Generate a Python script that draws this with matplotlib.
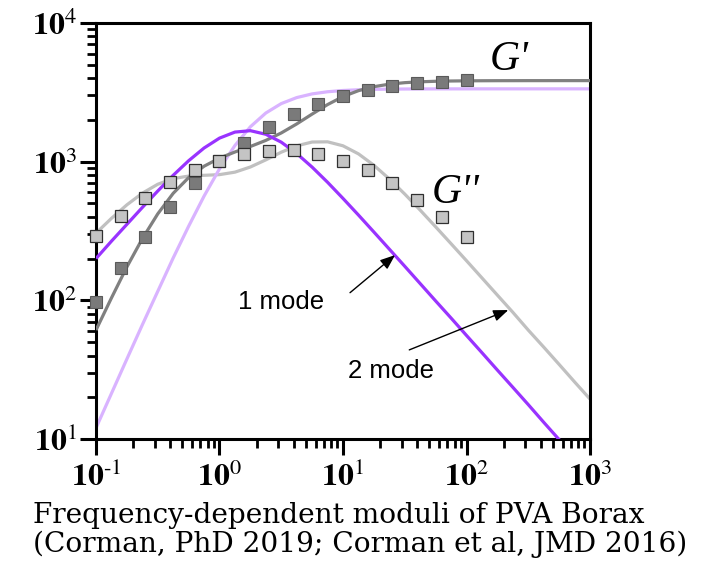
import numpy as np
import matplotlib.pyplot as plt
from matplotlib.ticker import LogLocator, FuncFormatter, NullFormatter

plt.rcParams['mathtext.fontset'] = 'stix'

# measured data (PVA borax)
freq_data = [0.1, 0.158, 0.251, 0.398, 0.631, 1.0, 1.585, 2.512, 3.981, 6.31,
             10, 15.85, 25.12, 39.81, 63.1, 100]
gp_data = [97, 170, 287, 470, 700, 1005, 1370, 1785, 2200, 2620, 2990, 3290,
           3515, 3690, 3780, 3860]
gpp_data = [291, 408, 550, 713, 867, 1006, 1130, 1194, 1214, 1130, 1016, 871,
            705, 530, 397, 288]

# fitted curves
freq_fit = [0.1, 0.1334, 0.1778, 0.2371, 0.3162, 0.4217, 0.5623, 0.7499, 1.0,
            1.334, 1.778, 2.371, 3.162, 4.217, 5.623, 7.499, 10, 13.34, 17.78,
            23.71, 31.62, 42.17, 56.23, 74.99, 100, 133.4, 177.8, 237.1, 316.2,
            421.7, 562.3, 749.9, 1000]
gp_2mode = [61, 104, 174, 278, 420, 591, 767, 927, 1060, 1174, 1286, 1423, 1610,
            1870, 2203, 2580, 2946, 3250, 3473, 3620, 3712, 3766, 3798, 3816,
            3827, 3832, 3836, 3837, 3839, 3839, 3840, 3840, 3840]
gpp_2mode = [305, 390, 488, 592, 687, 755, 787, 797, 806, 840, 915, 1030, 1170,
             1300, 1385, 1390, 1301, 1138, 942, 751, 584, 447, 339, 256, 193,
             145, 109, 82, 61, 46, 34.5, 25.8, 19.4]
gp_1mode = [12.0, 21.3, 37.7, 66.5, 116, 202, 342, 564, 887, 1308, 1784, 2242,
            2622, 2897, 3080, 3192, 3260, 3299, 3321, 3334, 3341, 3345, 3347,
            3348, 3349, 3350, 3350, 3350, 3350, 3350, 3350, 3350, 3350]
gpp_1mode = [200, 267, 353, 467, 614, 797, 1015, 1254, 1478, 1634, 1672, 1576,
             1382, 1145, 913, 710, 543, 412, 311, 234, 176, 132, 99, 74.5, 55.8,
             41.9, 31.4, 23.6, 17.7, 13.2, 9.9, 7.4, 5.6]

fig = plt.figure(figsize=(7.1, 5.66), dpi=100)
ax = fig.add_axes([0.1352, 0.2244, 0.6958, 0.735])

line_kw = dict(lw=2.3, solid_joinstyle='round', solid_capstyle='butt')
ax.plot(freq_fit, gpp_2mode, color='#c0c0c0', zorder=2, **line_kw)
ax.plot(freq_fit, gp_1mode, color='#d9b3ff', zorder=2, **line_kw)
ax.plot(freq_fit, gp_2mode, color='#808080', zorder=3, **line_kw)
ax.plot(freq_fit, gpp_1mode, color='#9933ff', zorder=3, **line_kw)

ax.plot(freq_data, gp_data, 's', ms=8, mfc='#7a7a7a', mec='#5a5a5a', mew=0.8,
        zorder=4, clip_on=False)
ax.plot(freq_data, gpp_data, 's', ms=8, mfc='#c4c4c4', mec='#303030', mew=0.9,
        zorder=5, clip_on=False)

ax.set_xscale('log')
ax.set_yscale('log')
ax.set_xlim(0.1, 1000)
ax.set_ylim(10, 10000)

for sp in ax.spines.values():
    sp.set_linewidth(2.2)

fmt = FuncFormatter(
    lambda v, _: r'$\mathbf{10}^{\text{%d}}$' % round(np.log10(v)))
for axis in (ax.xaxis, ax.yaxis):
    axis.set_major_locator(LogLocator(base=10, numticks=10))
    axis.set_minor_locator(LogLocator(base=10, subs=np.arange(2, 10), numticks=20))
    axis.set_major_formatter(fmt)
    axis.set_minor_formatter(NullFormatter())
ax.tick_params(which='major', direction='out', length=11.5, width=2.2,
               labelsize=23, pad=2)
ax.tick_params(which='minor', direction='out', length=6.5, width=2)
ax.tick_params(axis='x', which='major', pad=5)

ax.text(155, 4583, "G'", family='Liberation Serif', style='italic', fontsize=30,
        va='baseline', ha='left')
ax.text(52.6, 503, "G''", family='Liberation Serif', style='italic', fontsize=30,
        va='baseline', ha='left')
ax.text(1.41, 86, '1 mode', family='Liberation Sans', fontsize=18.5,
        va='baseline', ha='left')
ax.text(11.0, 27.5, '2 mode', family='Liberation Sans', fontsize=18.5,
        va='baseline', ha='left')

arrow = dict(arrowstyle='-|>,head_length=0.9,head_width=0.35', color='black',
             lw=1, shrinkA=0, shrinkB=0)
ax.annotate('', xy=(26.4, 212), xytext=(11.4, 113.5), arrowprops=arrow)
ax.annotate('', xy=(218, 85.1), xytext=(34.4, 43.9), arrowprops=arrow)

fig.text(0.0465, 0.076, 'Frequency-dependent moduli of PVA Borax',
         family='DejaVu Serif', fontsize=20.2, va='baseline', ha='left')
fig.text(0.0465, 0.0247, '(Corman, PhD 2019; Corman et al, JMD 2016)',
         family='DejaVu Serif', fontsize=20.2, va='baseline', ha='left')

fig.savefig('out.png', dpi=100)
